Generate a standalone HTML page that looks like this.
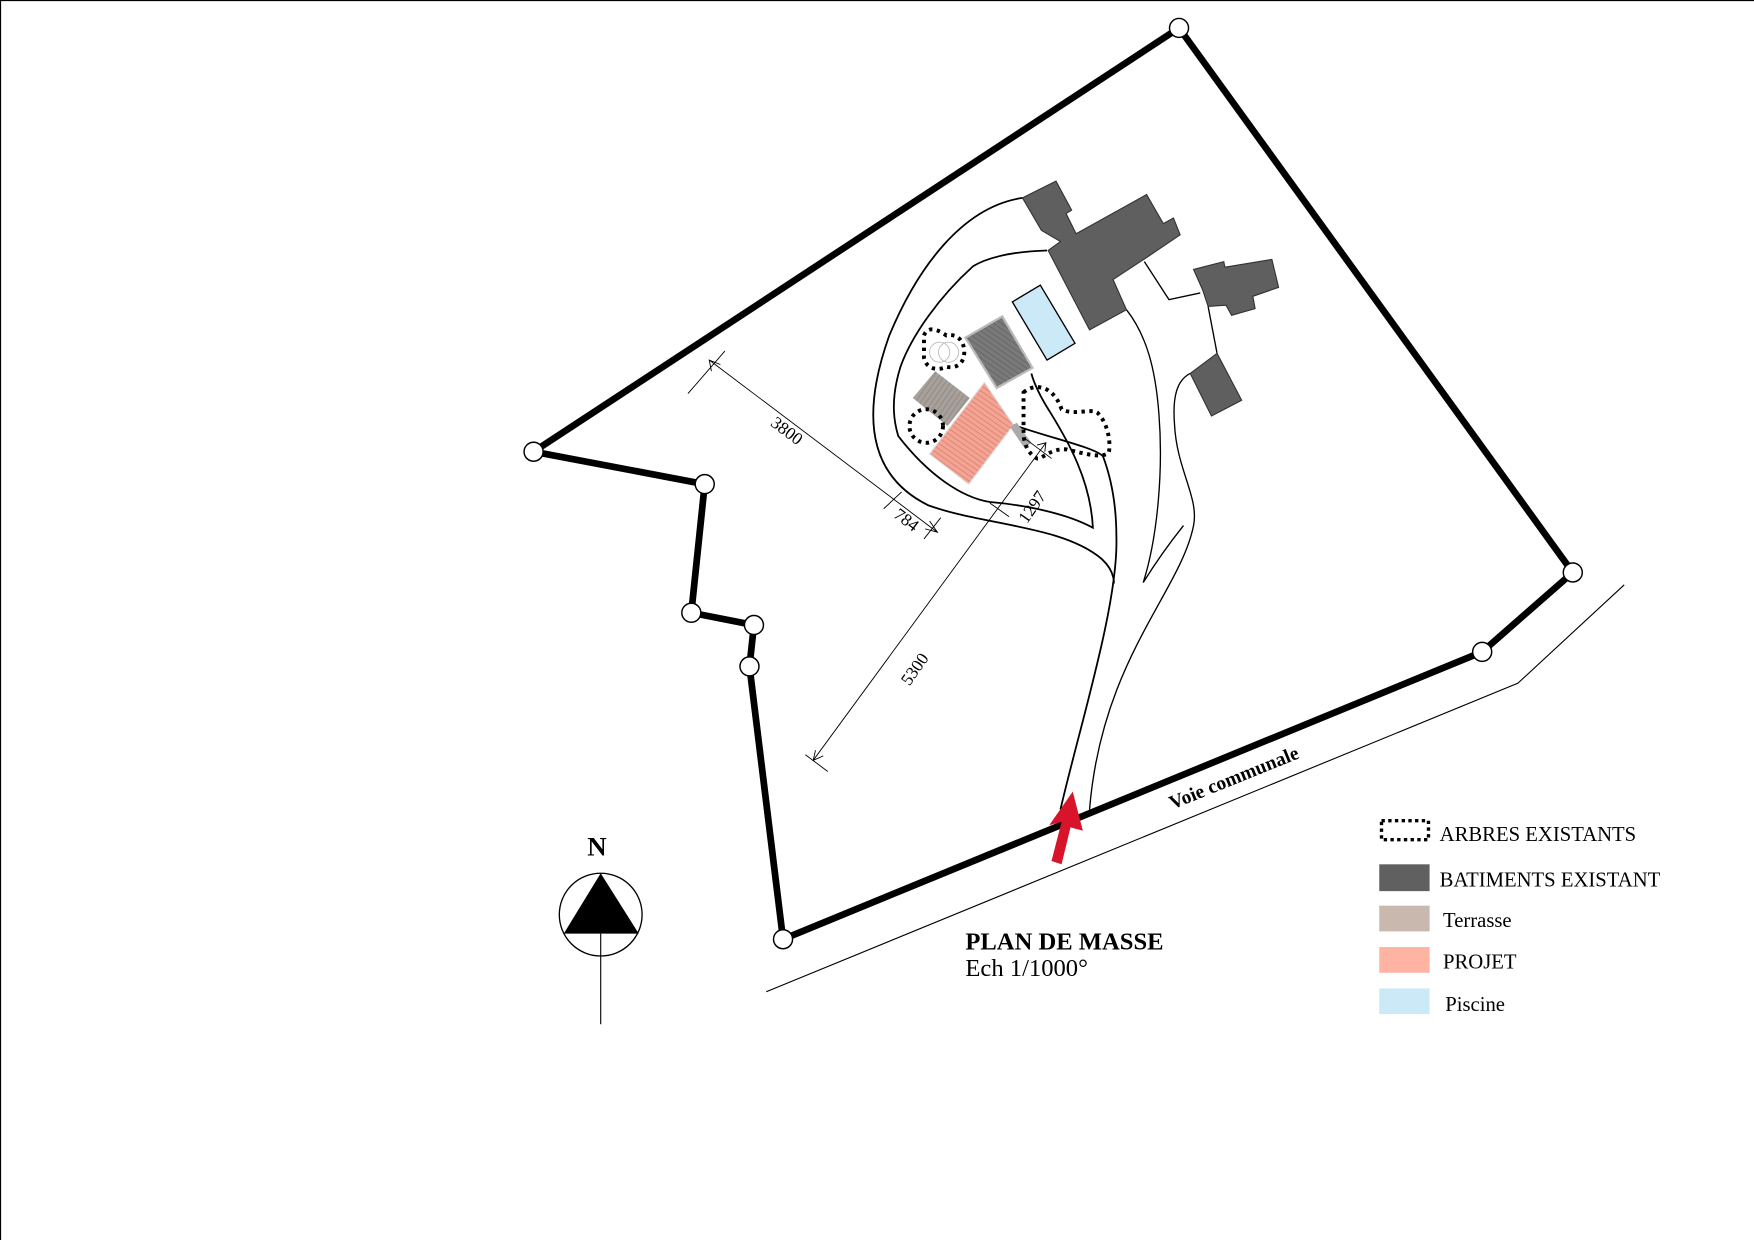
<!DOCTYPE html>
<html><head><meta charset="utf-8"><style>
html,body{margin:0;padding:0;background:#fff;width:1754px;height:1240px;overflow:hidden}
svg{display:block}
text{font-family:"Liberation Serif",serif}
</style></head><body>
<svg width="1754" height="1240" viewBox="0 0 1568 1109" preserveAspectRatio="none" xmlns="http://www.w3.org/2000/svg">
<defs>
<pattern id="st" width="4" height="4" patternUnits="userSpaceOnUse" patternTransform="rotate(-55)">
<rect width="4" height="4" fill="#f4a494"/><rect width="1" height="4" fill="#e08878"/></pattern>
<pattern id="sg" width="4" height="4" patternUnits="userSpaceOnUse" patternTransform="rotate(-55)">
<rect width="4" height="4" fill="#7a7a7a"/><rect width="1" height="4" fill="#686868"/></pattern>
<pattern id="sb" width="4" height="4" patternUnits="userSpaceOnUse" patternTransform="rotate(35)">
<rect width="4" height="4" fill="#a8a09a"/><rect width="1" height="4" fill="#958d88"/></pattern>
</defs>
<rect x="0.5" y="0.5" width="1580" height="1120" fill="none" stroke="#000" stroke-width="1"/>

<polyline points="685,887 1357,611 1452,523" fill="none" stroke="#000" stroke-width="1"/>

<g fill="none" stroke="#000" stroke-width="1.6">
<path d="M914,177 C860,185 820,240 795,300 C770,370 775,425 830,452 C880,470 950,470 985,500 C998,512 996,525 995,521"/>
<path d="M936,224 C900,225 880,232 870,238 C840,265 815,300 805,328 C795,360 800,380 803,390 C830,425 860,445 885,449 C920,452 955,460 977,472 C975,430 955,395 939,369 C930,355 925,345 922,334"/>
<path d="M906,380 C940,392 978,400 986,408 C998,440 998,470 998,480 C1000,540 965,650 948,724"/>
</g>
<g fill="none" stroke="#000" stroke-width="1.2">
<path d="M1007,277 C1025,300 1033,330 1036,370 C1040,420 1035,480 1022,521 C1035,500 1050,480 1058,470"/>
<path d="M1064,334 C1052,340 1048,355 1050,380 C1052,420 1072,445 1067,470 C1055,530 985,590 974,724"/>
<polyline points="1023,234 1045,268 1073,262"/>
<line x1="1080" y1="274" x2="1088" y2="316"/>
</g>

<g fill="#5f5f5f" stroke="#333" stroke-width="1">
<polygon points="914,177 944,162 958,188 953,191 962,209 1025,174 1040,200 1049,195 1055,210 1024,231 995,250 1007,277 974,295 937,224 948,216 931,206"/>
<polygon points="1067,241 1094,234 1095,239 1137,232 1143,257 1120,265 1122,276 1101,282 1096,273 1080,274 1075,259"/>
<polygon points="1064,334 1088,316 1110,358 1083,372"/>
</g>
<polygon points="905,270 930,255 961,307 936,322" fill="#cce9f8" stroke="#000" stroke-width="1.2"/>
<polygon points="863,302 896,283 923,329 891,347" fill="url(#sg)" stroke="#bbb" stroke-width="2"/>
<polygon points="816,356 836,332 867,356 847,381" fill="url(#sb)"/>
<polygon points="831,406 880,342 906,380 866,433" fill="url(#st)" stroke="#ddd" stroke-width="1"/>
<polygon points="903,382 909,378 922,396 916,401" fill="#aaa"/>

<g fill="none" stroke="#000" stroke-width="3.5" stroke-dasharray="3,4">
<path d="M826,300 C830,290 840,296 846,300 C856,298 862,305 862,315 C862,325 855,330 846,328 C838,332 828,330 826,320 Z"/>
<circle cx="828" cy="381" r="15"/>
<path d="M915,351 C925,342 942,345 949,366 C960,372 975,365 981,369 C992,380 993,400 991,405 C985,410 970,406 954,402 C940,400 930,412 927,410 C918,405 915,395 915,387 Z"/>
</g>
<g fill="none" stroke="#bbb" stroke-width="0.8"><circle cx="840" cy="315" r="9"/><circle cx="848" cy="315" r="9"/></g>

<g stroke="#000" stroke-width="0.8" fill="none">
<line x1="634" y1="322" x2="838" y2="476"/>
<line x1="615" y1="352" x2="648" y2="314"/>
<line x1="826" y1="482" x2="841" y2="463"/>
<line x1="790" y1="455" x2="806" y2="440"/>
<line x1="727" y1="680" x2="935" y2="396"/>
<line x1="720" y1="675" x2="740" y2="690"/>
<line x1="885" y1="450" x2="902" y2="462"/>
<line x1="916" y1="392" x2="940" y2="410"/>
<path d="M636,332 L634,322 L644,326"/>
<path d="M827,473 L838,476 L831,466"/>
<path d="M729,671 L727,680 L736,676"/>
<path d="M927,398 L935,396 L934,404"/>
</g>
<g font-size="15.5" fill="#000">
<text transform="translate(688,380) rotate(37)">3800</text>
<text transform="translate(798,462) rotate(37)">784</text>
<text transform="translate(813,614) rotate(-55)">5300</text>
<text transform="translate(918,469) rotate(-55)">1297</text>
</g>

<polygon points="1054,25 1406,512 1325,583 700,840 670,596 674,559 618,548 630,433 477,404" fill="none" stroke="#000" stroke-width="6" stroke-linejoin="round"/>
<g fill="#fff" stroke="#000" stroke-width="1.3">
<circle cx="1054" cy="25" r="8.5"/><circle cx="1406" cy="512" r="8.5"/><circle cx="1325" cy="583" r="8.5"/>
<circle cx="700" cy="840" r="8.5"/><circle cx="670" cy="596" r="8.5"/><circle cx="674" cy="559" r="8.5"/>
<circle cx="618" cy="548" r="8.5"/><circle cx="630" cy="433" r="8.5"/><circle cx="477" cy="404" r="8.5"/>
</g>

<polygon points="940,770 949,735 938,738 959,708 968,743 957,740 949,773" fill="#d8142a"/>

<text transform="translate(1048,724) rotate(-22)" font-size="17.5" font-weight="bold">Voie communale</text>

<text x="525" y="765" font-size="24" font-weight="bold">N</text>
<circle cx="537" cy="818" r="37" fill="#fff" stroke="#000" stroke-width="1.2"/>
<polygon points="504,835 537,781 571,835" fill="#000"/>
<line x1="537" y1="835" x2="537" y2="916" stroke="#000" stroke-width="1"/>

<text x="863" y="849" font-size="22" font-weight="bold">PLAN DE MASSE</text>
<text x="863" y="873" font-size="22">Ech 1/1000°</text>

<rect x="1235" y="734" width="42" height="17" fill="none" stroke="#000" stroke-width="3" stroke-dasharray="3,3"/>
<rect x="1233" y="773" width="45" height="24" fill="#606060"/>
<rect x="1233" y="810" width="45" height="23" fill="#c8b8ae"/>
<rect x="1233" y="847" width="45" height="23" fill="#ffb3a3"/>
<rect x="1233" y="884" width="45" height="23" fill="#cce9f8"/>
<g font-size="18.5">
<text x="1287" y="752">ARBRES EXISTANTS</text>
<text x="1287" y="793">BATIMENTS EXISTANT</text>
<text x="1290" y="829">Terrasse</text>
<text x="1290" y="866">PROJET</text>
<text x="1292" y="904">Piscine</text>
</g>
</svg>
</body></html>
